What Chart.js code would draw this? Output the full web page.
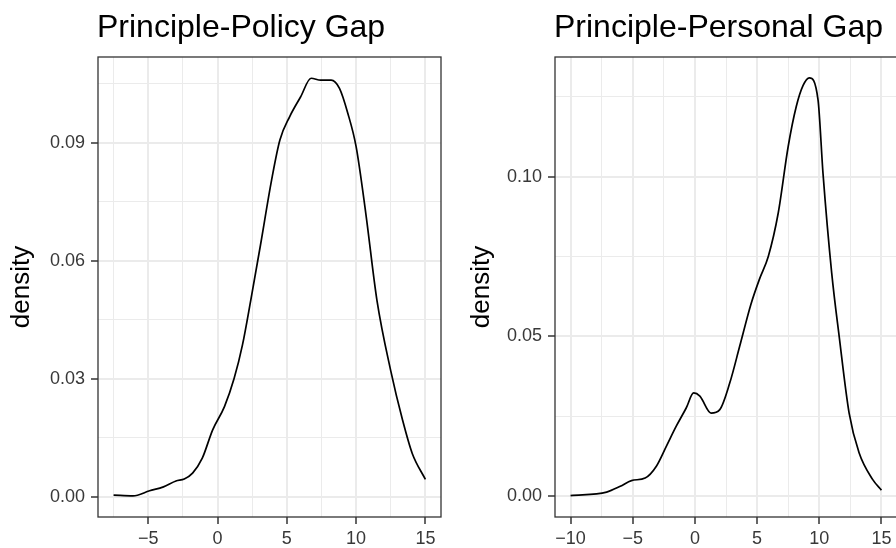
<!DOCTYPE html>
<html><head><meta charset="utf-8">
<script src="https://cdn.jsdelivr.net/npm/chart.js@4/dist/chart.umd.min.js"></script>
<style>
html,body{margin:0;padding:0;background:#fff;overflow:hidden;}
#wrap{position:relative;width:896px;height:548px;overflow:hidden;background:#fff;}
.box{position:absolute;top:0;height:548px;}
</style></head><body>
<div id="wrap">
  <div class="box" style="left:0;width:448px"><canvas id="c1" width="448" height="548"></canvas></div>
  <div class="box" style="left:448px;width:460px"><canvas id="c2" width="460" height="548"></canvas></div>
</div>
<script>
// ---- Data: Principle-Policy Gap (density estimate)
const policyTitle = "Principle-Policy Gap";
const policyX = [-7.5, -6.1, -4.9, -3.9, -3.0, -2.4, -1.8, -1.1, -0.35, 0.5, 1.2, 1.8, 2.4, 3.1, 3.9, 4.5, 5.2, 6.0, 6.75, 7.45, 8.2, 8.8, 9.4, 10.0, 10.7, 11.5, 12.5, 13.35, 14.05, 15.0];
const policyY = [0.0004, 0.0002, 0.0015, 0.0025, 0.0040, 0.0045, 0.0060, 0.0098, 0.0170, 0.0229, 0.0301, 0.0386, 0.0500, 0.0640, 0.0805, 0.0907, 0.0966, 0.1017, 0.1064, 0.1059, 0.1059, 0.1038, 0.0975, 0.0890, 0.0720, 0.0500, 0.0320, 0.0195, 0.0110, 0.0044];
const policyXTicks = [-5, 0, 5, 10, 15];
const policyXMinor = [-7.5, -2.5, 2.5, 7.5, 12.5];
const policyYTicks = [0.00, 0.03, 0.06, 0.09];
const policyYMinor = [0.015, 0.045, 0.075, 0.105];

// ---- Data: Principle-Personal Gap
const personalTitle = "Principle-Personal Gap";
const personalX = [-10, -7.1, -6.0, -5.1, -4.0, -3.1, -2.3, -1.5, -0.7, -0.1, 0.4, 1.3, 2.0, 2.8, 3.6, 4.5, 5.2, 5.9, 6.7, 7.5, 8.15, 8.7, 9.2, 9.9, 10.3, 11.0, 11.6, 12.4, 13.2, 14.3, 15.0];
const personalY = [0.0002, 0.0013, 0.0031, 0.0049, 0.0057, 0.0094, 0.0156, 0.0219, 0.0276, 0.0323, 0.0313, 0.0260, 0.0271, 0.0354, 0.0469, 0.0600, 0.0680, 0.0750, 0.0886, 0.1094, 0.1219, 0.1285, 0.1309, 0.1240, 0.1010, 0.0698, 0.0500, 0.0260, 0.0136, 0.0052, 0.0019];
const personalXTicks = [-10, -5, 0, 5, 10, 15];
const personalXMinor = [-7.5, -2.5, 2.5, 7.5, 12.5];
const personalYTicks = [0.00, 0.05, 0.10];
const personalYMinor = [0.025, 0.075, 0.125];

const yAxisTitle = "density";
const FONT = "'Liberation Sans', Arial, Helvetica, sans-serif";

const panelPlugin = {
  id: 'panelDeco',
  afterDraw(chart, args, opts) {
    const {ctx, chartArea: a} = chart;
    ctx.save();
    ctx.strokeStyle = '#333333';
    ctx.lineWidth = 1.3;
    ctx.strokeRect(a.left, a.top, a.right - a.left, a.bottom - a.top);
    ctx.fillStyle = '#000';
    ctx.font = opts.size + 'px ' + FONT;
    ctx.textAlign = 'left';
    ctx.textBaseline = 'alphabetic';
    ctx.fillText(opts.text, a.left - 1, opts.baseline);
    ctx.restore();
  }
};

function isIn(v, arr) { return arr.some(t => Math.abs(t - v) < 1e-9); }
function fmtX(v) { return v < 0 ? '\u2212' + Math.abs(v) : String(v); }

function makeChart(id, title, xs, ys, xt, xm, yt, ym, cfg) {
  const pts = xs.map((x, i) => ({x: x, y: ys[i]}));
  const xAll = xt.concat(xm).sort((a, b) => a - b);
  const yAll = yt.concat(ym).sort((a, b) => a - b);
  const tickFont = {family: FONT, size: 18};
  return new Chart(document.getElementById(id), {
    type: 'line',
    data: {datasets: [{data: pts, borderColor: '#000', borderWidth: 1.7, pointRadius: 0, fill: false, cubicInterpolationMode: 'monotone'}]},
    options: {
      responsive: false, animation: false, events: [],
      layout: {padding: {top: 57, right: cfg.padRight, left: 0, bottom: 0}},
      plugins: {legend: {display: false}, tooltip: {enabled: false}, title: {display: false},
        panelDeco: {text: title, size: 32, baseline: 37}},
      scales: {
        x: {
          type: 'linear', min: cfg.xmin, max: cfg.xmax,
          afterBuildTicks: s => { s.ticks = xAll.map(v => ({value: v})); },
          afterFit: s => { s.height = 31; },
          ticks: {autoSkip: false, maxRotation: 0, padding: 4, color: '#383838', font: tickFont,
            callback: v => isIn(v, xt) ? fmtX(v) : ''},
          grid: {color: '#EBEBEB', lineWidth: c => isIn(c.tick.value, xt) ? 2 : 1,
            tickColor: c => isIn(c.tick.value, xt) ? '#333333' : 'rgba(0,0,0,0)',
            tickLength: 7, tickWidth: 1.5},
          border: {display: false}
        },
        y: {
          type: 'linear', min: cfg.ymin, max: cfg.ymax,
          afterBuildTicks: s => { s.ticks = yAll.map(v => ({value: v})); },
          afterFit: s => { s.width = cfg.yAxisW; },
          ticks: {autoSkip: false, padding: 6, color: '#383838', font: tickFont,
            callback: v => isIn(v, yt) ? v.toFixed(2) : ''},
          grid: {color: '#EBEBEB', lineWidth: c => isIn(c.tick.value, yt) ? 2 : 1,
            tickColor: c => isIn(c.tick.value, yt) ? '#333333' : 'rgba(0,0,0,0)',
            tickLength: 7, tickWidth: 1.5},
          border: {display: false},
          title: {display: true, text: yAxisTitle, color: '#000', font: {family: FONT, size: 26}, padding: {top: cfg.titlePad}}
        }
      }
    },
    plugins: [panelPlugin]
  });
}

makeChart('c1', policyTitle, policyX, policyY, policyXTicks, policyXMinor, policyYTicks, policyYMinor,
  {xmin: -8.625, xmax: 16.125, ymin: -0.00516, ymax: 0.1118, padRight: 7, yAxisW: 98, titlePad: 6});
makeChart('c2', personalTitle, personalX, personalY, personalXTicks, personalXMinor, personalYTicks, personalYMinor,
  {xmin: -11.25, xmax: 16.25, ymin: -0.0065, ymax: 0.1374, padRight: 11, yAxisW: 107, titlePad: 18});
</script>
</body></html>
